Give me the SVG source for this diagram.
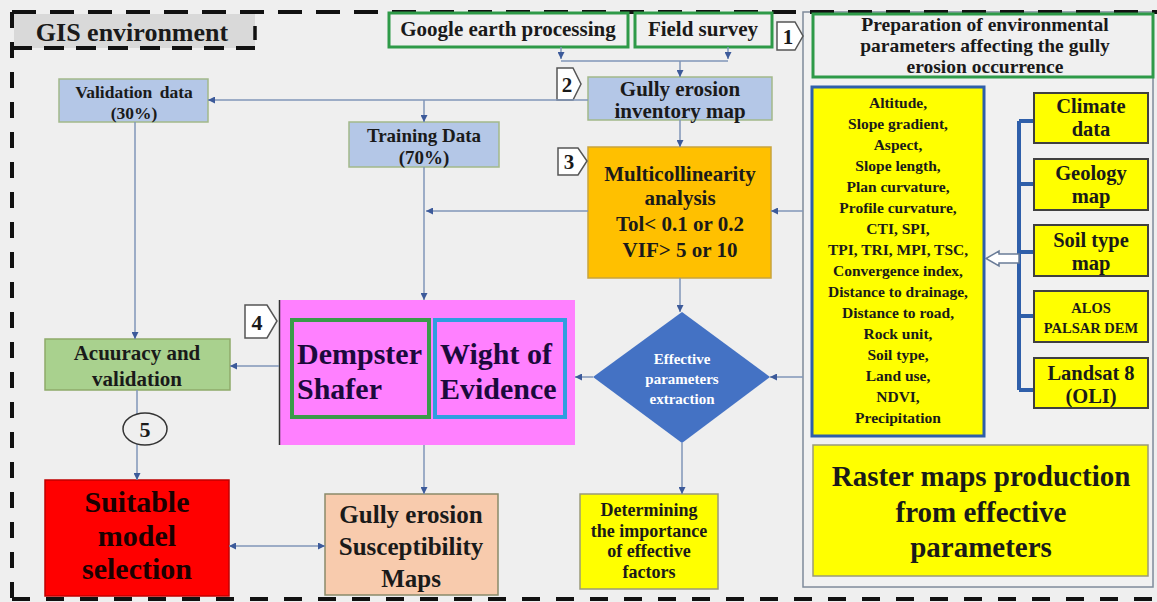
<svg xmlns="http://www.w3.org/2000/svg" width="1157" height="602" viewBox="0 0 1157 602">
<defs>
<marker id="ah" viewBox="0 0 10 10" refX="10" refY="5" markerWidth="7" markerHeight="7" markerUnits="userSpaceOnUse" orient="auto-start-reverse">
<path d="M0,0 L10,5 L0,10 z" fill="#3c5a9a"/>
</marker>
<style>
.t{font-family:"Liberation Serif","Times New Roman",serif;font-weight:bold;fill:#1a1a1a;text-anchor:middle}
.c{fill:none;stroke:#8196b8;stroke-width:1.5}
.ca{fill:none;stroke:#8196b8;stroke-width:1.5;marker-end:url(#ah)}
.gb{fill:#f0f0f0;stroke:#2e9a48;stroke-width:3}
.lb{fill:#b4c7e7;stroke:#a3b98a;stroke-width:1.5}
.yb{fill:#ffff00;stroke:#404040;stroke-width:2}
.pent{fill:#ffffff;stroke:#555;stroke-width:1.5}
.brk{fill:none;stroke:#2f5faa;stroke-width:4}
</style>
</defs>
<rect x="0" y="0" width="1157" height="602" fill="#efefef"/>
<rect id="right-panel" x="803" y="12" width="350" height="575" fill="#f1f1f1" stroke="#7f8a9a" stroke-width="1.5"/>

<g id="border">
<path d="M12,12 H1157" stroke="#111" stroke-width="4" stroke-dasharray="24 14" fill="none"/>
<path d="M12,12 V600" stroke="#111" stroke-width="4" stroke-dasharray="16 14" fill="none"/>
<path d="M12,599 H1157" stroke="#111" stroke-width="4" stroke-dasharray="18 16" fill="none"/>
</g>

<g id="gis-label">
<rect x="14" y="14" width="241" height="34" fill="#d9d9d9"/>
<path d="M12,48 H255" stroke="#111" stroke-width="4" stroke-dasharray="20 12" fill="none"/>
<path d="M255,26 V40" stroke="#111" stroke-width="3.5" fill="none"/>
<text class="t" x="132" y="41" font-size="26">GIS environment</text>
</g>

<g id="google">
<rect class="gb" x="389" y="13" width="239" height="34"/>
<text class="t" x="508" y="36" font-size="21">Google earth processing</text>
</g>
<g id="field">
<rect class="gb" x="635" y="13" width="137" height="34"/>
<text class="t" x="703" y="36" font-size="21">Field survey</text>
</g>
<g id="step1">
<polygon class="pent" points="777,22 795,22 803,36 795,50 777,50"/>
<text class="t" x="788" y="44" font-size="21">1</text>
</g>

<g id="prep">
<rect class="gb" x="813" y="14" width="340" height="63"/>
<text class="t" x="985" y="31" font-size="19.5">Preparation of environmental</text>
<text class="t" x="985" y="52" font-size="19.5">parameters affecting the gully</text>
<text class="t" x="985" y="73" font-size="19.5">erosion occurrence</text>
</g>

<g id="params">
<rect x="812" y="87" width="172" height="349" fill="#ffff00" stroke="#2f5faa" stroke-width="3"/>
<g class="t" font-size="15.5">
<text x="898" y="108">Altitude,</text>
<text x="898" y="129">Slope gradient,</text>
<text x="898" y="150">Aspect,</text>
<text x="898" y="171">Slope length,</text>
<text x="898" y="192">Plan curvature,</text>
<text x="898" y="213">Profile curvature,</text>
<text x="898" y="234">CTI, SPI,</text>
<text x="898" y="255">TPI, TRI, MPI, TSC,</text>
<text x="898" y="276">Convergence index,</text>
<text x="898" y="297">Distance to drainage,</text>
<text x="898" y="318">Distance to road,</text>
<text x="898" y="339">Rock unit,</text>
<text x="898" y="360">Soil type,</text>
<text x="898" y="381">Land use,</text>
<text x="898" y="402">NDVI,</text>
<text x="898" y="423">Precipitation</text>
</g>
</g>

<g id="sources-bracket">
<path class="brk" d="M1019,121 V390 M1019,121 H1034 M1019,184 H1034 M1019,252 H1034 M1019,316 H1034 M1019,390 H1034"/>
<path d="M1019,254 H999 V251 L986,258.5 L999,266 V263 H1019 z" fill="#ffffff" stroke="#6a7c98" stroke-width="1.5"/>
</g>

<g id="climate">
<rect class="yb" x="1034" y="93" width="114" height="50"/>
<text class="t" x="1091" y="113" font-size="20.5">Climate</text>
<text class="t" x="1091" y="136" font-size="20.5">data</text>
</g>
<g id="geology">
<rect class="yb" x="1034" y="159" width="114" height="51"/>
<text class="t" x="1091" y="180" font-size="20.5">Geology</text>
<text class="t" x="1091" y="203" font-size="20.5">map</text>
</g>
<g id="soil">
<rect class="yb" x="1034" y="225" width="114" height="51"/>
<text class="t" x="1091" y="247" font-size="20.5">Soil type</text>
<text class="t" x="1091" y="270" font-size="20.5">map</text>
</g>
<g id="alos">
<rect class="yb" x="1034" y="291" width="114" height="51"/>
<text class="t" x="1091" y="313" font-size="14.5">ALOS</text>
<text class="t" x="1091" y="333" font-size="14.5">PALSAR DEM</text>
</g>
<g id="landsat">
<rect class="yb" x="1034" y="358" width="114" height="50"/>
<text class="t" x="1091" y="380" font-size="20.5">Landsat 8</text>
<text class="t" x="1091" y="403" font-size="20.5">(OLI)</text>
</g>

<g id="raster">
<rect x="813" y="445" width="335" height="131" fill="#ffff00" stroke="#9a9a7a" stroke-width="1.5"/>
<text class="t" x="981" y="486" font-size="29">Raster maps production</text>
<text class="t" x="981" y="522" font-size="29">from effective</text>
<text class="t" x="981" y="557" font-size="29">parameters</text>
</g>

<g id="inventory">
<rect class="lb" x="588" y="77" width="184" height="43"/>
<text class="t" x="680" y="96" font-size="21">Gully erosion</text>
<text class="t" x="680" y="118" font-size="21">inventory map</text>
</g>
<g id="step2">
<polygon class="pent" points="557,68 573,68 581,84 573,100 557,100"/>
<text class="t" x="567" y="92" font-size="21">2</text>
</g>

<g id="validation">
<rect class="lb" x="59" y="79" width="149" height="43"/>
<text class="t" x="134" y="98" font-size="17.5" word-spacing="3">Validation data</text>
<text class="t" x="134" y="119" font-size="17.5">(30%)</text>
</g>

<g id="training">
<rect class="lb" x="349" y="122" width="150" height="45"/>
<text class="t" x="424" y="142" font-size="19">Training Data</text>
<text class="t" x="424" y="164" font-size="19">(70%)</text>
</g>

<g id="multicol">
<rect x="588" y="147" width="183" height="131" fill="#ffc000" stroke="#c9a43c" stroke-width="1.5"/>
<text class="t" x="680" y="181" font-size="21">Multicollinearity</text>
<text class="t" x="680" y="205" font-size="21">analysis</text>
<text class="t" x="680" y="231" font-size="21">Tol&lt; 0.1 or 0.2</text>
<text class="t" x="680" y="257" font-size="21">VIF&gt; 5 or 10</text>
</g>
<g id="step3">
<polygon class="pent" points="558,148 578,148 587,161 578,175 558,175"/>
<text class="t" x="569" y="169" font-size="21">3</text>
</g>

<g id="models">
<rect x="279" y="300" width="296" height="145" fill="#ff80ff"/>
<path d="M279.5,300 V445" stroke="#333" stroke-width="1.5"/>
<rect x="292" y="320" width="137" height="97" fill="none" stroke="#3a9a4a" stroke-width="4"/>
<rect x="435" y="320" width="130" height="97" fill="none" stroke="#2e9ee0" stroke-width="4"/>
<text class="t" x="297" y="364" font-size="30" style="text-anchor:start;fill:#1b0a3c">Dempster</text>
<text class="t" x="297" y="399" font-size="30" style="text-anchor:start;fill:#1b0a3c">Shafer</text>
<text class="t" x="440" y="364" font-size="30" style="text-anchor:start;fill:#1b0a3c">Wight of</text>
<text class="t" x="440" y="399" font-size="30" style="text-anchor:start;fill:#1b0a3c">Evidence</text>
</g>
<g id="step4">
<polygon class="pent" points="245,305 267,305 277,321 267,338 245,338"/>
<text class="t" x="257" y="330" font-size="22">4</text>
</g>

<g id="diamond">
<polygon points="682,312 770,377 682,443 593,377" fill="#4472c4"/>
<text class="t" x="682" y="364" font-size="15" style="fill:#ffffff">Effective</text>
<text class="t" x="682" y="384" font-size="15" style="fill:#ffffff">parameters</text>
<text class="t" x="682" y="404" font-size="15" style="fill:#ffffff">extraction</text>
</g>

<g id="accuracy">
<rect x="45" y="339" width="185" height="51" fill="#a9d18e" stroke="#8faa6a" stroke-width="1.5"/>
<text class="t" x="137" y="360" font-size="21">Acuuracy and</text>
<text class="t" x="137" y="386" font-size="21">validation</text>
</g>

<g id="suitable">
<rect x="45" y="480" width="184" height="116" fill="#ff0000" stroke="#c00000" stroke-width="1.5"/>
<text class="t" x="137" y="512" font-size="30" style="fill:#1a0000">Suitable</text>
<text class="t" x="137" y="545.5" font-size="30" style="fill:#1a0000">model</text>
<text class="t" x="137" y="579" font-size="30" style="fill:#1a0000">selection</text>
</g>

<g id="susceptibility">
<rect x="325" y="494" width="173" height="101" fill="#f8cbad" stroke="#8a8a6a" stroke-width="1.5"/>
<text class="t" x="411" y="523" font-size="25">Gully erosion</text>
<text class="t" x="411" y="555" font-size="25">Susceptibility</text>
<text class="t" x="411" y="587" font-size="25">Maps</text>
</g>

<g id="importance">
<rect x="580" y="494" width="138" height="95" fill="#ffff00" stroke="#9a9a7a" stroke-width="1.5"/>
<text class="t" x="649" y="516" font-size="18">Determining</text>
<text class="t" x="649" y="537" font-size="18">the importance</text>
<text class="t" x="649" y="557" font-size="18">of effective</text>
<text class="t" x="649" y="578" font-size="18">factors</text>
</g>

<g id="connectors">
<path class="ca" d="M561,47 V59"/>
<path class="ca" d="M728,47 V59"/>
<path class="c" d="M561,61 H728"/>
<path class="ca" d="M680,61 V77"/>
<path class="ca" d="M588,100 H208"/>
<path class="ca" d="M424,100 V122"/>
<path class="ca" d="M680,120 V147"/>
<path class="ca" d="M803,211 H771"/>
<path class="ca" d="M588,211 H426"/>
<path class="ca" d="M424,167 V300"/>
<path class="ca" d="M680,278 V312"/>
<path class="ca" d="M803,377 H770"/>
<path class="ca" d="M593,377 H575"/>
<path class="ca" d="M279,366 H230"/>
<path class="ca" d="M135,122 V339"/>
<path class="ca" d="M137,390 V480"/>
<path class="ca" d="M424,445 V494"/>
<path class="ca" d="M682,443 V494"/>
<path class="ca" d="M229,546 H325" style="marker-start:url(#ah)"/>
</g>

<g id="step5">
<ellipse cx="145" cy="429" rx="22" ry="16" fill="#efefef" stroke="#333" stroke-width="1.5"/>
<text class="t" x="145" y="437" font-size="22">5</text>
</g>
</svg>
